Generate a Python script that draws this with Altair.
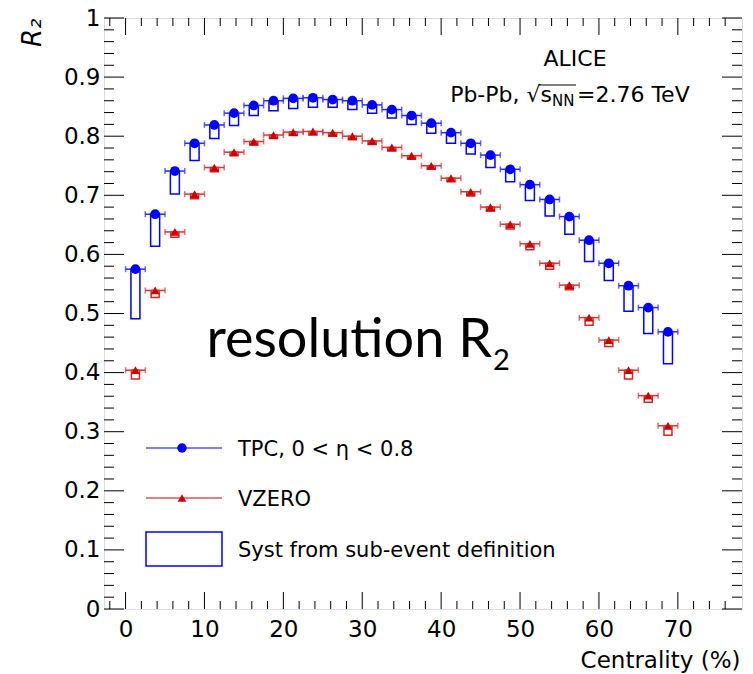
import altair as alt
import pandas as pd

# ---------------- data ----------------
centrality = [1.25, 3.75, 6.25, 8.75, 11.25, 13.75, 16.25, 18.75, 21.25, 23.75,
              26.25, 28.75, 31.25, 33.75, 36.25, 38.75, 41.25, 43.75, 46.25, 48.75,
              51.25, 53.75, 56.25, 58.75, 61.25, 63.75, 66.25, 68.75]
bin_half_width = 1.25

tpc_r2 = [0.575, 0.668, 0.741, 0.788, 0.819, 0.839, 0.852, 0.860, 0.864, 0.865,
          0.862, 0.860, 0.853, 0.845, 0.835, 0.822, 0.806, 0.788, 0.768, 0.744,
          0.718, 0.693, 0.664, 0.624, 0.585, 0.547, 0.510, 0.469]
tpc_syst = [0.084, 0.054, 0.039, 0.029, 0.023, 0.021, 0.017, 0.017, 0.017, 0.016,
            0.013, 0.015, 0.014, 0.014, 0.015, 0.017, 0.018, 0.018, 0.021, 0.021,
            0.027, 0.028, 0.030, 0.036, 0.029, 0.043, 0.044, 0.054]

vzero_r2 = [0.404, 0.539, 0.638, 0.702, 0.747, 0.773, 0.791, 0.802, 0.807, 0.808,
            0.806, 0.800, 0.792, 0.781, 0.767, 0.750, 0.729, 0.706, 0.680, 0.651,
            0.618, 0.585, 0.548, 0.493, 0.455, 0.404, 0.361, 0.310]
vzero_syst = [0.015, 0.012, 0.009, 0.008, 0.007, 0.006, 0.006, 0.006, 0.006, 0.006,
              0.006, 0.006, 0.006, 0.006, 0.006, 0.006, 0.006, 0.007, 0.007, 0.008,
              0.010, 0.010, 0.008, 0.013, 0.011, 0.015, 0.011, 0.016]

x_major = [0, 10, 20, 30, 40, 50, 60, 70]
x_minor = [v for v in range(-2, 78, 2) if v % 10 != 0]
y_major = [round(i * 0.1, 1) for i in range(11)]
y_minor = [round(i * 0.02, 2) for i in range(51) if i % 5 != 0]

df = pd.DataFrame({
    "cent": centrality,
    "xlo": [c - bin_half_width for c in centrality],
    "xhi": [c + bin_half_width for c in centrality],
    "tpc": tpc_r2,
    "tpc_lo": [v - s for v, s in zip(tpc_r2, tpc_syst)],
    "vz": vzero_r2,
    "vz_lo": [v - s for v, s in zip(vzero_r2, vzero_syst)],
})

# ---------------- style ----------------
W, H = 638, 591
BLUE = "#0000ff"
RED = "#cc0000"
FONT = "DejaVu Sans"

xs = alt.Scale(domain=[-2.1, 77.5], nice=False, zero=False)
ys = alt.Scale(domain=[0, 1], nice=False, zero=False)

base = alt.Chart(df)
one = alt.Chart(alt.Data(values=[{}]))

# label axes (ticks are drawn separately, pointing inward)
x_label_axis = alt.Axis(orient="bottom", values=x_major, ticks=False, tickSize=0,
                        domain=False, grid=False, labelFont=FONT, labelFontSize=23,
                        labelColor="black", labelPadding=9,
                        title="Centrality (%)", titleFont=FONT, titleFontSize=23,
                        titleFontWeight="normal", titleColor="black",
                        titleAnchor="end", titleAlign="right", titleBaseline="alphabetic",
                        titleX=636, titleY=58)
y_label_axis = alt.Axis(orient="left", values=y_major, format="~g", ticks=False,
                        tickSize=0, domain=False, grid=False, labelFont=FONT,
                        labelFontSize=23, labelColor="black", labelPadding=4,
                        title="R₂", titleFont=FONT, titleFontSize=26,
                        titleFontStyle="italic", titleFontWeight="normal",
                        titleColor="black", titleAngle=270, titleX=-64, titleY=0,
                        titleAlign="right", titleBaseline="alphabetic")

tpc_boxes = base.mark_bar(width=9, fillOpacity=0, stroke=BLUE, strokeWidth=1.5).encode(
    x=alt.X("cent:Q", scale=xs, axis=x_label_axis),
    y=alt.Y("tpc:Q", scale=ys, axis=y_label_axis),
    y2="tpc_lo:Q",
)

# ---------------- inward ticks on all four sides (ROOT style) ----------------
tick_layers = []
for vals, ln in [(x_major, 17), (x_minor, 8)]:
    tdf = alt.Chart(pd.DataFrame({"v": vals}))
    xenc = alt.X("v:Q", scale=xs, axis=None)
    tick_layers.append(tdf.mark_rule(color="black", strokeWidth=1).encode(
        x=xenc, y=alt.value(H), y2=alt.value(H - ln)))
    tick_layers.append(tdf.mark_rule(color="black", strokeWidth=1).encode(
        x=xenc, y=alt.value(0), y2=alt.value(ln)))
for vals, ln in [(y_major, 20), (y_minor, 10)]:
    tdf = alt.Chart(pd.DataFrame({"v": vals}))
    yenc = alt.Y("v:Q", scale=ys, axis=None)
    tick_layers.append(tdf.mark_rule(color="black", strokeWidth=1).encode(
        y=yenc, x=alt.value(0), x2=alt.value(ln)))
    tick_layers.append(tdf.mark_rule(color="black", strokeWidth=1).encode(
        y=yenc, x=alt.value(W), x2=alt.value(W - ln)))

vz_boxes = base.mark_bar(width=8, fillOpacity=0, stroke="#dd2222", strokeWidth=1.5).encode(
    x=alt.X("cent:Q", scale=xs, axis=None),
    y=alt.Y("vz:Q", scale=ys, axis=None),
    y2="vz_lo:Q",
)

tpc_err = base.mark_errorbar(ticks={"size": 6}, thickness=1.5, color="#2a2aff").encode(
    x=alt.X("xlo:Q", scale=xs, axis=None),
    x2="xhi:Q",
    y=alt.Y("tpc:Q", scale=ys, axis=None),
)
vz_err = base.mark_errorbar(ticks={"size": 6}, thickness=1.5, color="#dd3333").encode(
    x=alt.X("xlo:Q", scale=xs, axis=None),
    x2="xhi:Q",
    y=alt.Y("vz:Q", scale=ys, axis=None),
)

tpc_pts = base.mark_point(shape="circle", filled=True, size=95, opacity=1, color=BLUE).encode(
    x=alt.X("cent:Q", scale=xs, axis=None),
    y=alt.Y("tpc:Q", scale=ys, axis=None),
)
vz_pts = base.mark_point(shape="triangle-up", filled=True, size=80, opacity=1, color=RED).encode(
    x=alt.X("cent:Q", scale=xs, axis=None),
    y=alt.Y("vz:Q", scale=ys, axis=None),
)

# ---------------- legend (drawn inside the frame) ----------------
leg = [
    one.mark_rule(color=BLUE, strokeWidth=1).encode(x=alt.value(42), x2=alt.value(118), y=alt.value(430)),
    one.mark_point(shape="circle", filled=True, size=90, opacity=1, color=BLUE).encode(x=alt.value(78), y=alt.value(430)),
    one.mark_rule(color=RED, strokeWidth=1).encode(x=alt.value(42), x2=alt.value(118), y=alt.value(480)),
    one.mark_point(shape="triangle-up", filled=True, size=75, opacity=1, color=RED).encode(x=alt.value(78), y=alt.value(480)),
    one.mark_rect(fillOpacity=0, stroke=BLUE, strokeWidth=1.5).encode(
        x=alt.value(42), x2=alt.value(118), y=alt.value(514), y2=alt.value(548)),
]
for txt, yy in [("TPC, 0 < η < 0.8", 438), ("VZERO", 488), ("Syst from sub-event definition", 539)]:
    leg.append(one.mark_text(align="left", baseline="alphabetic", font=FONT, fontSize=21,
                             color="black").encode(x=alt.value(134), y=alt.value(yy), text=alt.value(txt)))

# ---------------- annotations ----------------
ann = [
    one.mark_text(align="center", baseline="alphabetic", font=FONT, fontSize=22, color="black").encode(
        x=alt.value(471), y=alt.value(48), text=alt.value("ALICE")),
    one.mark_text(align="right", baseline="alphabetic", font=FONT, fontSize=22, color="black").encode(
        x=alt.value(448), y=alt.value(84), text=alt.value("Pb-Pb, √s")),
    one.mark_text(align="left", baseline="alphabetic", font=FONT, fontSize=15, color="black").encode(
        x=alt.value(448), y=alt.value(88), text=alt.value("NN")),
    one.mark_text(align="left", baseline="alphabetic", font=FONT, fontSize=22, color="black").encode(
        x=alt.value(473), y=alt.value(84), text=alt.value("=2.76 TeV")),
    one.mark_rule(color="black", strokeWidth=1.2).encode(x=alt.value(435), x2=alt.value(472), y=alt.value(67)),
    one.mark_text(align="right", baseline="alphabetic", font="Lato", fontSize=54, color="black").encode(
        x=alt.value(388), y=alt.value(339), text=alt.value("resolution R")),
    one.mark_text(align="left", baseline="alphabetic", font="Lato", fontSize=29, color="black").encode(
        x=alt.value(389), y=alt.value(352), text=alt.value("2")),
]

chart = alt.layer(
    tpc_boxes, *tick_layers, vz_boxes, tpc_err, vz_err, tpc_pts, vz_pts, *leg, *ann
).resolve_axis(x="independent", y="independent").properties(
    width=W, height=H,
    autosize=alt.AutoSizeParams(type="none"),
    padding={"left": 96, "top": 10, "right": 3, "bottom": 64},
).configure_view(stroke="black", strokeWidth=1.2).configure(background="white")

chart.save("out.html", embed_options={"renderer": "svg", "actions": False})
